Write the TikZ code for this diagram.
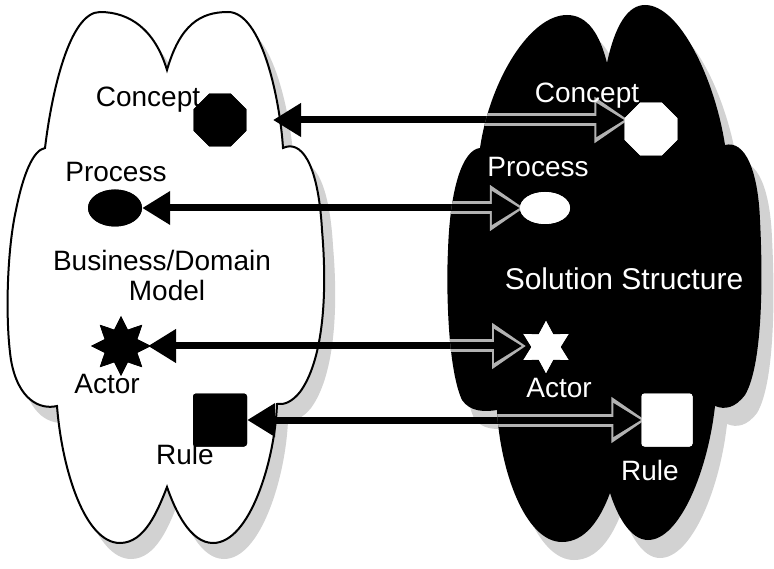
\documentclass[tikz,border=0pt]{standalone}
\usepackage{fontspec}
\setmainfont{Liberation Sans}
\usetikzlibrary{shapes.geometric,arrows.meta}

% outline of the white business cloud (units: pt, y pointing down)
\newcommand\bizcloud{(167,70)
 .. controls (180,25) and (200,12) .. (228,12)
 .. controls (262,12) and (280,100) .. (283,148)
 .. controls (300,140) and (318,160) .. (322,230)
 .. controls (328,300) and (322,362) .. (300,392)
 .. controls (292,402) and (284,405) .. (277,404)
 .. controls (275,460) and (250,543) .. (213,543)
 .. controls (190,543) and (175,510) .. (167,487)
 .. controls (158,510) and (145,543) .. (120,543)
 .. controls (85,543) and (62,470) .. (57,406)
 .. controls (40,410) and (18,400) .. (11,360)
 .. controls (5,320) and (7,250) .. (16,210)
 .. controls (23,175) and (33,150) .. (45,148)
 .. controls (52,90) and (70,12) .. (100,12)
 .. controls (130,12) and (155,30) .. (167,70) -- cycle}

% outline of the black solution cloud
\newcommand\solcloud{(607,63)
 .. controls (615,25) and (628,5) .. (645,5)
 .. controls (680,5) and (715,80) .. (725,145)
 .. controls (745,140) and (758,170) .. (760,220)
 .. controls (764,300) and (760,370) .. (745,395)
 .. controls (735,408) and (725,410) .. (715,406)
 .. controls (708,470) and (680,540) .. (648,540)
 .. controls (630,540) and (617,515) .. (610,493)
 .. controls (600,520) and (585,542) .. (562,542)
 .. controls (525,542) and (500,470) .. (497,410)
 .. controls (485,412) and (470,412) .. (462,400)
 .. controls (448,370) and (446,290) .. (448,250)
 .. controls (450,190) and (462,150) .. (480,148)
 .. controls (490,80) and (530,15) .. (567,15)
 .. controls (588,15) and (600,35) .. (607,63) -- cycle}

\begin{document}
\begin{tikzpicture}[x=1pt,y=-1pt,
  lbl/.style={font=\fontsize{28}{33}\selectfont, inner sep=0pt, anchor=base},
  darklbl/.style={lbl, text=black},
  lightlbl/.style={lbl, text=white},
  shadow/.style={fill=gray!35},
  conn/.style={line width=7pt, draw=black,
    {Triangle[length=28pt,width=32pt]}-{Triangle[length=28pt,width=32pt]}},
  halo/.style={line width=13pt, draw=gray!60,
    {Triangle[length=34pt,width=44pt]}-{Triangle[length=34pt,width=44pt]},
    shorten >=-4pt, shorten <=-4pt},
  octa/.style={regular polygon, regular polygon sides=8, minimum size=57pt, inner sep=0pt},
  oval/.style={ellipse, inner sep=0pt},
  spark/.style={star, inner sep=0pt},
  block/.style={rectangle, rounded corners=3pt, inner sep=0pt}
]
\useasboundingbox (0,0) rectangle (774,569);
\fill[white] (0,0) rectangle (774,569);

% drop shadows
\begin{scope}[shift={(11,16)}]
  \fill[shadow] \bizcloud;
\end{scope}
\begin{scope}[shift={(12,18)}]
  \fill[shadow] \solcloud;
\end{scope}

% the two clouds
\filldraw[fill=white, draw=black, line width=2pt] \bizcloud;
\fill[black] \solcloud;

% elements of the business/domain model
\node[octa, fill=black] (conL) at (220,120) {};
\node[oval, fill=black, minimum width=54pt, minimum height=37pt] (proL) at (115,208) {};
\node[spark, star points=8, star point ratio=1.7, minimum size=60pt, fill=black] (actL) at (121,346) {};
\node[block, fill=black, minimum width=54pt, minimum height=53pt] (rulL) at (220,420) {};

% elements of the solution structure
\node[octa, fill=white] (conR) at (651,129) {};
\node[oval, fill=white, minimum width=50pt, minimum height=32pt] (proR) at (545,208) {};
\node[spark, star points=6, star point ratio=1.8, minimum size=52pt, fill=white] (actR) at (546,347) {};
\node[block, fill=white, minimum width=51pt, minimum height=53pt] (rulR) at (667,420) {};

% connector end points
\coordinate (e1a) at (273,120);
\coordinate (e1b) at (e1a -| conR.west);
\coordinate (e2a) at (proL.east);
\coordinate (e2b) at (proR.west);
\coordinate (e3a) at ([xshift=27pt]actL.center);
\coordinate (e3b) at ([xshift=-24pt]actL.center -| actR.center);
\coordinate (e4a) at (rulL.east);
\coordinate (e4b) at (rulR.west);

% connectors
\foreach \i in {1,...,4} \draw[conn] (e\i a) -- (e\i b);

% inside the black cloud the connectors show a light rim
\begin{scope}
  \clip \solcloud;
  \foreach \i in {1,...,4} \draw[halo] (e\i a) -- (e\i b);
  \foreach \i in {1,...,4} \draw[conn] (e\i a) -- (e\i b);
\end{scope}

% redraw the shapes over the connectors
\node[octa, fill=black] at (conL) {};
\node[oval, fill=black, minimum width=54pt, minimum height=37pt] at (proL) {};
\node[spark, star points=8, star point ratio=1.7, minimum size=60pt, fill=black] at (actL) {};
\node[block, fill=black, minimum width=54pt, minimum height=53pt] at (rulL) {};
\node[octa, fill=white] at (conR) {};
\node[oval, fill=white, minimum width=50pt, minimum height=32pt] at (proR) {};
\node[spark, star points=6, star point ratio=1.8, minimum size=52pt, fill=white] at (actR) {};
\node[block, fill=white, minimum width=51pt, minimum height=53pt] at (rulR) {};

% labels, left cloud
\node[darklbl] (tConL) at (148,107) {Concept};
\node[darklbl] (tProL) at (116,182) {Process};
\node[darklbl] (tBiz) at (162,271) {Business/Domain};
\node[darklbl] (tMod) at (167,301) {Model};
\node[darklbl] (tActL) at (107,393) {Actor};
\node[darklbl] (tRulL) at (185,464) {Rule};

% labels, right cloud
\node[lightlbl] (tConR) at (587,103) {Concept};
\node[lightlbl] (tProR) at (538,177) {Process};
\node[lightlbl, font=\fontsize{30}{36}\selectfont] (tSol) at (624,290) {Solution Structure};
\node[lightlbl] (tActR) at (559,397) {Actor};
\node[lightlbl] (tRulR) at (650,480) {Rule};
\end{tikzpicture}
\end{document}
